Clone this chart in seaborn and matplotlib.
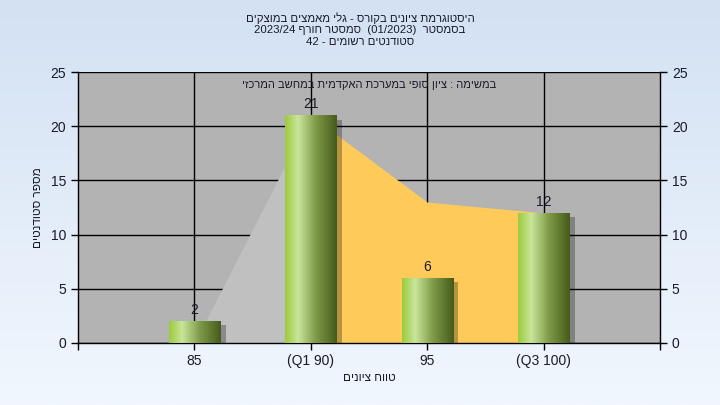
import numpy as np
import matplotlib
matplotlib.use('Agg')
import matplotlib.pyplot as plt
import matplotlib.patheffects as pe
from matplotlib.colors import LinearSegmentedColormap
import seaborn as sns

# data
grade_labels = ['85', '(Q1 90)', '95', '(Q3 100)']
student_counts = [2, 21, 6, 12]
gray_area_x = [0, 1]
gray_area_y = [0, 21]
yellow_area_x = [1, 2, 3]
yellow_area_y = [21, 13, 12]

title_lines = ['היסטוגרמת ציונים בקורס - גלי מאמצים במוצקים',
               'בסמסטר  (01/2023)  סמסטר חורף 2023/24',
               'סטודנטים רשומים - 42']
inner_text = 'במשימה : ציון סופי במערכת האקדמית במחשב המרכזי'
x_title = 'טווח ציונים'
y_title = 'מספר סטודנטים'


def visual(s):
    # matplotlib has no bidi: lay the hebrew out right-to-left by hand
    toks = s.split(' ')[::-1]
    out = []
    for t in toks:
        if any('\u0590' <= c <= '\u05ff' for c in t):
            out.append(t[::-1])
        else:
            out.append(t)
    return ' '.join(out)


sns.set_style('white')
plt.rcParams['font.family'] = ['Liberation Sans', 'DejaVu Sans']
txt_col = '#1a1a2a'

fig, ax = plt.subplots(figsize=(7.2, 4.05), dpi=100)
fig.subplots_adjust(left=78/720, right=660/720, bottom=1-343/405, top=1-72/405)

# light blue gradient background
bg = fig.add_axes([0, 0, 1, 1], zorder=-10)
bg_cmap = LinearSegmentedColormap.from_list('bg', ['#D3E1F3', '#F1F7FE'])
bg.imshow(np.linspace(0, 1, 256).reshape(-1, 1), aspect='auto', cmap=bg_cmap,
          extent=[0, 1, 0, 1])
bg.axis('off')

ax.set_facecolor('#B3B3B3')
ax.set_axisbelow(True)

sns.barplot(x=grade_labels, y=student_counts, order=grade_labels, width=0.44,
            ax=ax, color='#9BCB3B')

ax.fill_between(gray_area_x, gray_area_y, color='#C0C0C0', lw=0, zorder=1.5)
ax.fill_between(yellow_area_x, yellow_area_y, color='#FECB5A', lw=0, zorder=1.6)

bar_cmap = LinearSegmentedColormap.from_list(
    'bar', [(0, '#9BCB3B'), (0.25, '#C9E59B'), (0.6, '#7E9A48'), (1, '#465B1B')])
grad = np.linspace(0, 1, 128).reshape(1, -1)
for p in ax.patches:
    p.set_zorder(3)
    p.set_linewidth(0)
    p.set_facecolor('none')
    p.set_path_effects([pe.SimplePatchShadow(offset=(4, -3), shadow_rgbFace='k', alpha=0.28)])
    x0, y0 = p.get_x(), p.get_y()
    im = ax.imshow(grad, aspect='auto', cmap=bar_cmap,
                   extent=[x0, x0 + p.get_width(), y0, y0 + p.get_height()], zorder=3.1)
    im.set_clip_path(p)

ax.bar_label(ax.containers[0], padding=3, fontsize=10, color=txt_col)

ax.set_xlim(-1, 4)
ax.set_ylim(0, 25)
ax.set_xticks(range(len(grade_labels)))
ax.set_xticklabels(grade_labels)
ax.set_xticks([-1, 4], minor=True)
ax.set_yticks(range(0, 26, 5))
ax.grid(True, which='major', color='black', lw=1)
ax.tick_params(axis='both', which='both', direction='out', length=5, width=1,
               color='black', labelsize=10, labelcolor=txt_col, bottom=True, left=True)
ax.tick_params(axis='x', pad=3)
for s in ['left', 'bottom', 'right']:
    ax.spines[s].set_color('black')
    ax.spines[s].set_linewidth(1)
ax.spines['top'].set_visible(False)

ax2 = ax.twinx()
ax2.set_ylim(0, 25)
ax2.set_yticks(range(0, 26, 5))
ax2.tick_params(axis='y', direction='out', length=5, width=1, color='black',
                labelsize=10, labelcolor=txt_col, right=True)
for s in ax2.spines.values():
    s.set_visible(False)

ax.set_xlabel(visual(x_title), fontsize=8.5, color=txt_col, labelpad=3)
ax.set_ylabel(visual(y_title), fontsize=8.5, color=txt_col, labelpad=5)

ax.text(0.5, 0.952, visual(inner_text), transform=ax.transAxes, ha='center',
        va='center', fontsize=8, color=txt_col)

for i, line in enumerate(title_lines):
    fig.text(0.5, 1 - (18 + 12 * i) / 405, visual(line), ha='center', va='center',
             fontsize=8.2, color=txt_col)

plt.savefig('out.png', dpi=100)
